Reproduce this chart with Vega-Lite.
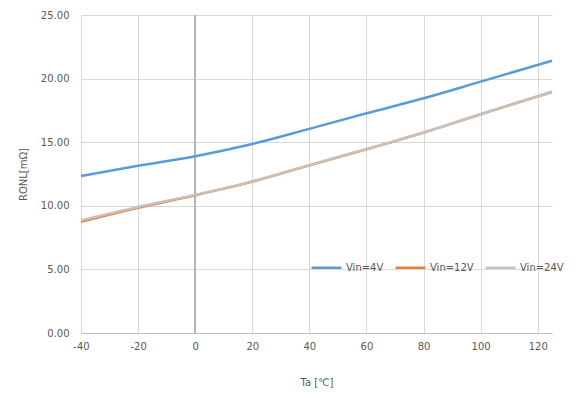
{
  "$schema": "https://vega.github.io/schema/vega-lite/v6.json",
  "width": 471,
  "height": 318,
  "autosize": {"type": "none"},
  "padding": {"left": 81, "top": 15, "right": 33, "bottom": 63},
  "background": "white",
  "config": {
    "font": "DejaVu Sans",
    "view": {"stroke": null},
    "axis": {"labelColor": "#595959", "titleColor": "#595959", "labelFontSize": 10, "titleFontSize": 10, "titleFontWeight": "normal", "gridColor": "#d9d9d9", "domainColor": "#bfbfbf", "tickColor": "#bfbfbf"}
  },
  "data": {"values": [
    {"t": -40, "v": 12.34, "s": "Vin=4V"},
    {"t": -20, "v": 13.15, "s": "Vin=4V"},
    {"t": 0, "v": 13.9, "s": "Vin=4V"},
    {"t": 20, "v": 14.86, "s": "Vin=4V"},
    {"t": 40, "v": 16.05, "s": "Vin=4V"},
    {"t": 60, "v": 17.27, "s": "Vin=4V"},
    {"t": 80, "v": 18.45, "s": "Vin=4V"},
    {"t": 100, "v": 19.76, "s": "Vin=4V"},
    {"t": 125, "v": 21.4, "s": "Vin=4V"},
    {"t": -40, "v": 8.75, "s": "Vin=12V"},
    {"t": -20, "v": 9.85, "s": "Vin=12V"},
    {"t": 0, "v": 10.83, "s": "Vin=12V"},
    {"t": 20, "v": 11.9, "s": "Vin=12V"},
    {"t": 40, "v": 13.18, "s": "Vin=12V"},
    {"t": 60, "v": 14.44, "s": "Vin=12V"},
    {"t": 80, "v": 15.75, "s": "Vin=12V"},
    {"t": 100, "v": 17.2, "s": "Vin=12V"},
    {"t": 125, "v": 18.95, "s": "Vin=12V"},
    {"t": -40, "v": 8.85, "s": "Vin=24V"},
    {"t": -20, "v": 9.9, "s": "Vin=24V"},
    {"t": 0, "v": 10.86, "s": "Vin=24V"},
    {"t": 20, "v": 11.92, "s": "Vin=24V"},
    {"t": 40, "v": 13.2, "s": "Vin=24V"},
    {"t": 60, "v": 14.45, "s": "Vin=24V"},
    {"t": 80, "v": 15.76, "s": "Vin=24V"},
    {"t": 100, "v": 17.2, "s": "Vin=24V"},
    {"t": 125, "v": 18.97, "s": "Vin=24V"}
  ]},
  "encoding": {
    "x": {"field": "t", "type": "quantitative", "scale": {"domain": [-40, 125], "nice": false, "zero": false},
          "axis": {"values": [-40, -20, 0, 20, 40, 60, 80, 100, 120], "grid": true, "title": "Ta [℃]", "titlePadding": 26, "ticks": false, "labelPadding": 8, "labelFlush": false,
                   "labelExpr": "datum.value < 0 ? '-' + abs(datum.value) : '' + datum.value"}}
  },
  "layer": [
    {
      "mark": {"type": "rule", "color": "#b4b4b4", "strokeWidth": 1},
      "encoding": {"x": {"datum": 0, "type": "quantitative"}}
    },
    {
      "mark": {"type": "line", "strokeWidth": 2.5, "interpolate": "monotone"},
      "encoding": {
        "y": {"field": "v", "type": "quantitative", "scale": {"domain": [0, 25], "nice": false},
              "axis": {"values": [0, 5, 10, 15, 20, 25], "format": ".2f", "title": "RONL[mΩ]", "titlePadding": 12, "ticks": false, "labelPadding": 12, "domain": false}},
        "color": {"field": "s", "type": "nominal",
                  "scale": {"domain": ["Vin=4V", "Vin=12V", "Vin=24V"], "range": ["#5B9BD5", "#ED7D31", "#C8C0BC"]},
                  "legend": {"title": null, "orient": "none", "legendX": 229, "legendY": 236, "direction": "horizontal",
                             "symbolType": "stroke", "symbolSize": 900, "symbolStrokeWidth": 2.5, "labelFontSize": 10, "labelColor": "#595959", "columnPadding": 6, "labelOffset": 3}}
      }
    }
  ]
}
